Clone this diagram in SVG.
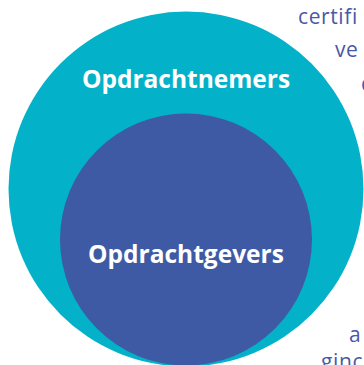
<svg xmlns="http://www.w3.org/2000/svg" width="364" height="365" viewBox="0 0 364 365">
  <style>
    .label { font-family: "Open Sans", "Liberation Sans", sans-serif; font-weight: 700; font-size: 24.5px; fill: #ffffff; text-anchor: middle; }
    .side { font-family: "Open Sans", "Liberation Sans", sans-serif; font-weight: 400; font-size: 21px; letter-spacing: 0.6px; fill: #4859a6; }
  </style>
  <rect width="364" height="365" fill="#ffffff"/>
  <g id="opdrachtnemers">
    <circle cx="186" cy="189" r="177.5" fill="#03b2c8"/>
    <text class="label" x="186" y="88">Opdrachtnemers</text>
  </g>
  <g id="opdrachtgevers">
    <circle cx="186" cy="239.5" r="126" fill="#3f5aa4"/>
    <text class="label" x="186" y="263">Opdrachtgevers</text>
  </g>
  <g id="connectors"></g>
  <g id="side-text">
    <text class="side" x="298" y="24">certifi</text>
    <text class="side" x="335" y="57">ve</text>
    <text class="side" x="361" y="91">c</text>
    <text class="side" x="349" y="342">a</text>
    <text class="side" x="321" y="369">ginc</text>
  </g>
</svg>
